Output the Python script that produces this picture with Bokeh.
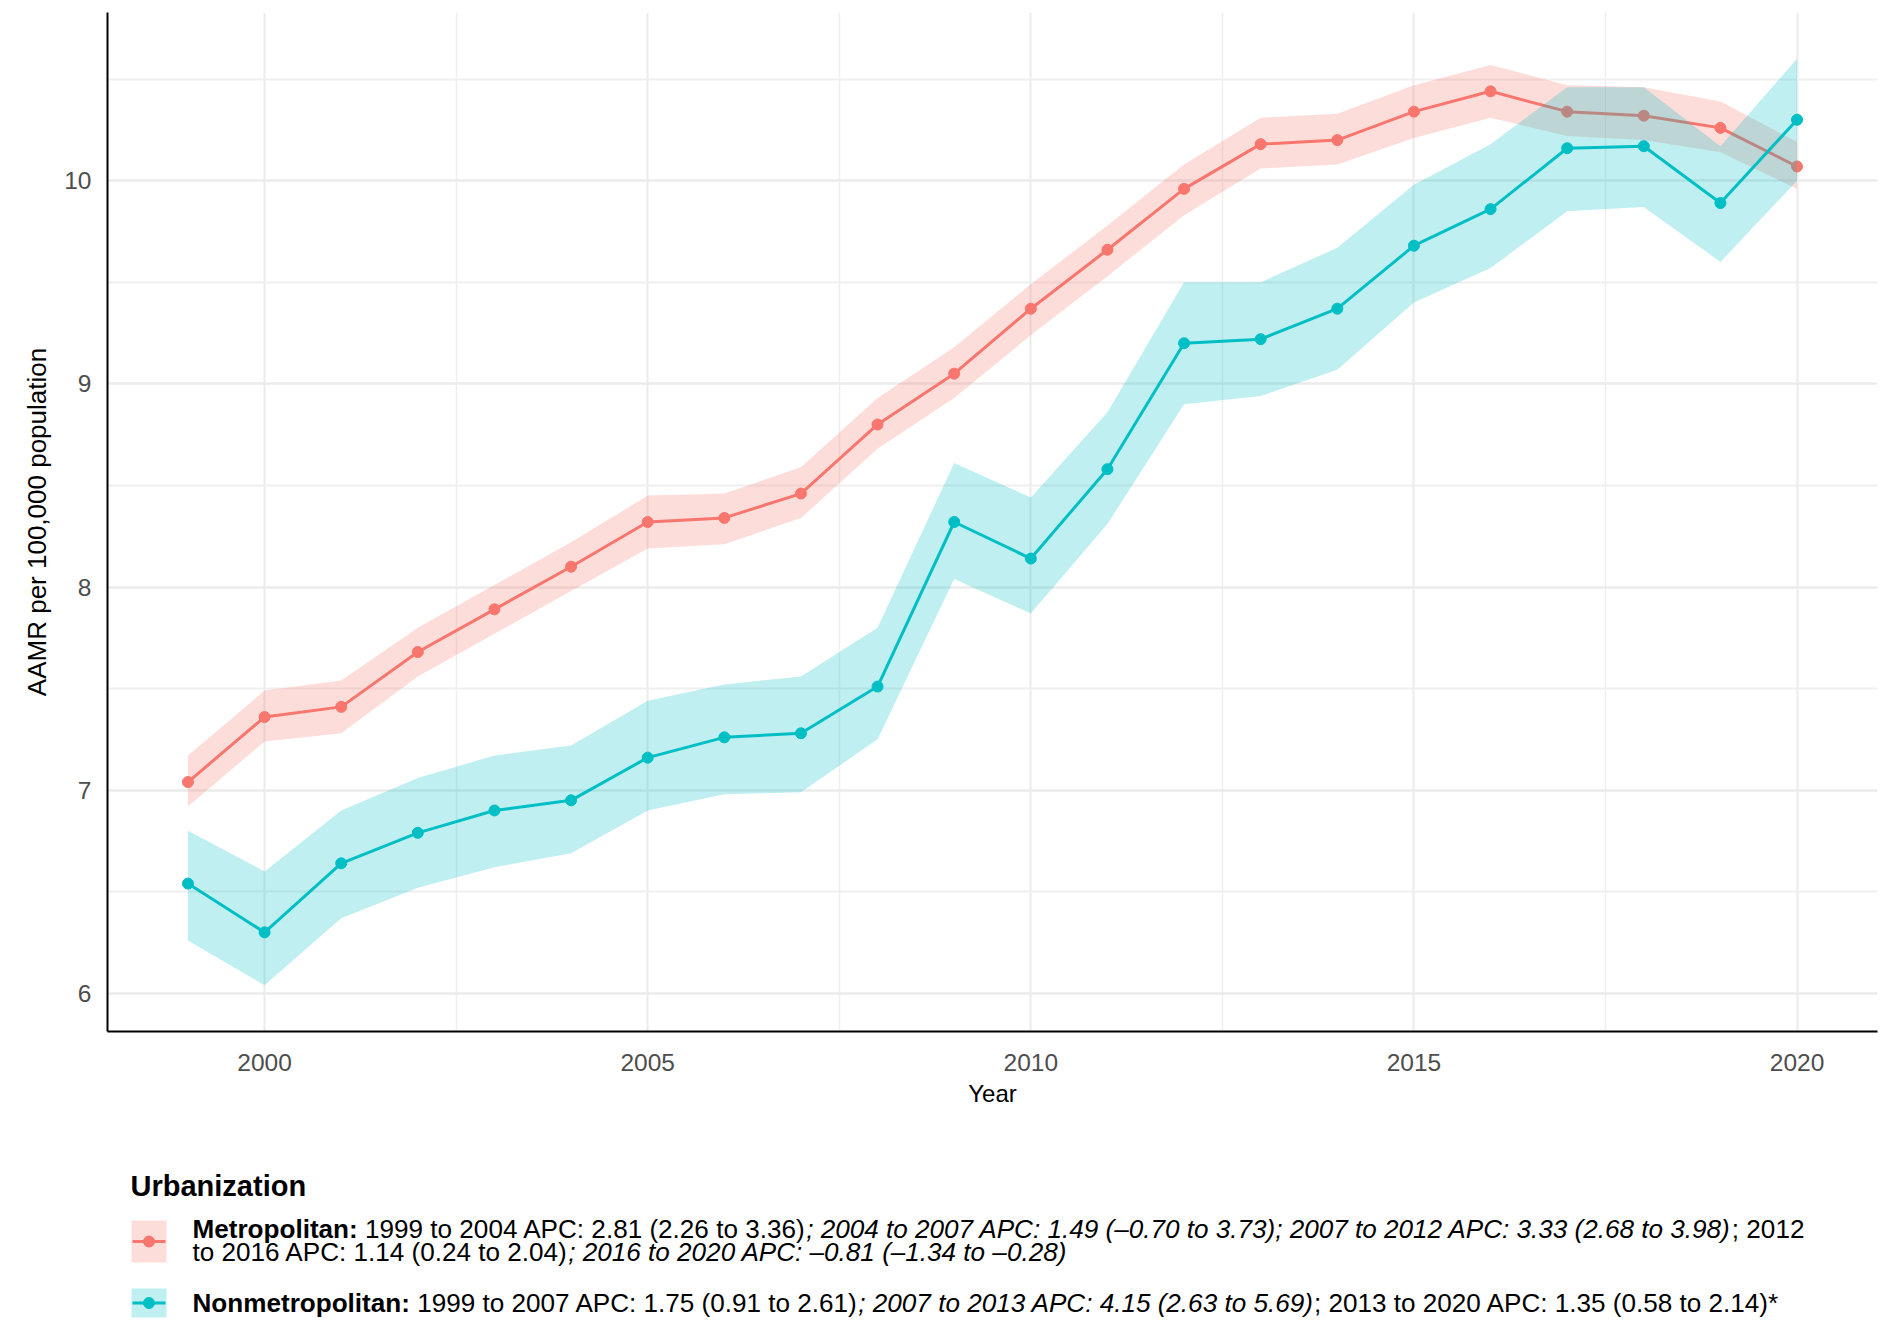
from bokeh.plotting import figure
from bokeh.models import Range1d, FixedTicker
from bokeh.layouts import column
from bokeh.embed import file_html
from bokeh.resources import INLINE
from bokeh.core.properties import value

# ---------------- data ----------------
years = list(range(1999, 2021))
metro = [7.04, 7.36, 7.41, 7.68, 7.89, 8.10, 8.32, 8.34, 8.46, 8.80, 9.05,
         9.37, 9.66, 9.96, 10.18, 10.20, 10.34, 10.44, 10.34, 10.32, 10.26, 10.07]
metro_lo = [6.92, 7.24, 7.28, 7.56, 7.77, 7.98, 8.19, 8.21, 8.34, 8.68, 8.93,
            9.24, 9.53, 9.83, 10.06, 10.08, 10.21, 10.31, 10.22, 10.20, 10.14, 9.96]
metro_hi = [7.17, 7.49, 7.54, 7.80, 8.01, 8.22, 8.45, 8.46, 8.59, 8.93, 9.18,
            9.49, 9.78, 10.08, 10.31, 10.33, 10.47, 10.57, 10.47, 10.46, 10.39, 10.19]
nonmetro = [6.54, 6.30, 6.64, 6.79, 6.90, 6.95, 7.16, 7.26, 7.28, 7.51, 8.32,
            8.14, 8.58, 9.20, 9.22, 9.37, 9.68, 9.86, 10.16, 10.17, 9.89, 10.30]
nonmetro_lo = [6.26, 6.04, 6.37, 6.52, 6.62, 6.69, 6.90, 6.98, 6.99, 7.25, 8.04,
               7.87, 8.31, 8.90, 8.94, 9.07, 9.40, 9.57, 9.85, 9.87, 9.60, 10.00]
nonmetro_hi = [6.80, 6.60, 6.90, 7.06, 7.17, 7.22, 7.44, 7.52, 7.56, 7.80, 8.61,
               8.44, 8.86, 9.50, 9.50, 9.67, 9.98, 10.18, 10.46, 10.46, 10.17, 10.60]

x_ticks = [2000, 2005, 2010, 2015, 2020]
x_minor = [1997.5, 2002.5, 2007.5, 2012.5, 2017.5]
y_ticks = [6, 7, 8, 9, 10]
y_minor = [5.5, 6.5, 7.5, 8.5, 9.5, 10.5]

legend_title = "Urbanization"
legend_rows = [
    [("Metropolitan:", "bold"),
     (" 1999 to 2004 APC: 2.81 (2.26 to 3.36)", "normal"),
     ("; 2004 to 2007 APC: 1.49 (\u20130.70 to 3.73); 2007 to 2012 APC: 3.33 (2.68 to 3.98)", "italic"),
     ("; 2012", "normal")],
    [("to 2016 APC: 1.14 (0.24 to 2.04)", "normal"),
     ("; 2016 to 2020 APC: \u20130.81 (\u20131.34 to \u20130.28)", "italic")],
    [("Nonmetropolitan:", "bold"),
     (" 1999 to 2007 APC: 1.75 (0.91 to 2.61)", "normal"),
     ("; 2007 to 2013 APC: 4.15 (2.63 to 5.69)", "italic"),
     ("; 2013 to 2020 APC: 1.35 (0.58 to 2.14)*", "normal")],
]

RED = "#F8766D"
TEAL = "#00BFC4"
FONT = "Liberation Sans"
W = 1885
H_MAIN = 1133
H_LEG = 186
B_LEFT, B_RIGHT = 107, 8

# ---------------- main plot ----------------
def expand(lo, hi, f=0.05):
    d = (hi - lo) * f
    return lo - d, hi + d

xmin, xmax = expand(min(years), max(years))
ymin, ymax = expand(min(metro_lo + nonmetro_lo), max(metro_hi + nonmetro_hi))

p = figure(width=W, height=H_MAIN, output_backend="svg", toolbar_location=None,
           x_range=Range1d(xmin, xmax), y_range=Range1d(ymin, ymax),
           min_border_left=B_LEFT, min_border_right=B_RIGHT, min_border_top=12,
           min_border_bottom=102)
p.outline_line_color = None
p.background_fill_color = "white"

xt = FixedTicker(ticks=x_ticks, minor_ticks=x_minor)
yt = FixedTicker(ticks=y_ticks, minor_ticks=y_minor)
p.xaxis.ticker = xt
p.yaxis.ticker = yt
p.xgrid.ticker = xt
p.ygrid.ticker = yt

for g in (p.xgrid, p.ygrid):
    g.grid_line_color = "#EBEBEB"
    g.grid_line_width = 2
    g.minor_grid_line_color = "#EFEFEF"
    g.minor_grid_line_width = 1.5
p.ygrid.grid_line_width = 2.5
p.ygrid.minor_grid_line_width = 2

for ax in (p.xaxis, p.yaxis):
    ax.axis_line_color = "black"
    ax.axis_line_width = 2
    ax.major_tick_line_color = None
    ax.minor_tick_line_color = None
    ax.major_label_text_font = FONT
    ax.major_label_text_font_size = "24.5px"
    ax.major_label_text_color = "#4D4D4D"
    ax.axis_label_text_font = FONT
    ax.axis_label_text_font_style = "normal"
    ax.axis_label_text_color = "black"

p.xaxis.axis_label = "Year"
p.xaxis.axis_label_text_font_size = "24px"
p.xaxis.major_label_standoff = 16
p.xaxis.axis_label_standoff = 6
p.yaxis.axis_label = "AAMR per 100,000 population"
p.yaxis.axis_label_text_font_size = "26px"
p.yaxis.major_label_standoff = 10
p.yaxis.axis_label_standoff = 9

series = [(metro, metro_lo, metro_hi, RED), (nonmetro, nonmetro_lo, nonmetro_hi, TEAL)]
for vals, lo, hi, col in series:
    p.varea(x=years, y1=lo, y2=hi, fill_color=col, fill_alpha=0.25)
    p.line(years, vals, line_color=col, line_width=3)
    p.scatter(years, vals, size=11, fill_color=col, line_color=col)

# ---------------- legend (separate panel, frame aligned with the plot) ----------------
REG = {' ': 278, '(': 333, ')': 333, '*': 389, ',': 278, '\u2013': 556, '.': 278,
       ':': 278, ';': 278, 'A': 667, 'C': 722, 'M': 833, 'N': 722, 'P': 667,
       'a': 556, 'e': 556, 'i': 222, 'l': 222, 'm': 833, 'n': 556, 'o': 556,
       'p': 556, 'r': 333, 't': 278, 'u': 556}
BOLD = {' ': 278, ':': 333, 'M': 833, 'N': 722, 'a': 556, 'e': 556, 'i': 278,
        'l': 278, 'm': 889, 'n': 611, 'o': 611, 'p': 611, 'r': 389, 't': 333}

def text_width(s, style, size):
    tbl = BOLD if style == "bold" else REG
    return sum(tbl.get(c, 556) for c in s) / 1000.0 * size

LEG_FS = 26.1
L = figure(width=W, height=H_LEG, output_backend="svg", toolbar_location=None,
           x_range=Range1d(B_LEFT, W - B_RIGHT), y_range=Range1d(H_LEG, 0),
           x_axis_type=None, y_axis_type=None,
           min_border_left=B_LEFT, min_border_right=B_RIGHT,
           min_border_top=0, min_border_bottom=0)
L.outline_line_color = None
L.xgrid.visible = False
L.ygrid.visible = False

L.text(x=[130], y=[52], text=[legend_title], text_font=value(FONT),
       text_font_size=value("29px"), text_font_style=value("bold"),
       text_color="black", text_align="left", text_baseline="middle")

# keys: (left, right, top, bottom, color)
key_boxes = [(131, 166, 87, 129, RED), (131, 166, 155, 184, TEAL)]
for kl, kr, kt, kb, col in key_boxes:
    L.quad(left=[kl], right=[kr], top=[kt], bottom=[kb], fill_color=col,
           fill_alpha=0.25, line_color=None)
    cy = (kt + kb) / 2.0
    L.line([kl + 1, kr - 1], [cy, cy], line_color=col, line_width=3)
    L.scatter([(kl + kr) / 2.0], [cy], size=11, fill_color=col, line_color=col)

row_y = [95, 118, 169]
text_x0 = 192
for ry, segs in zip(row_y, legend_rows):
    cursor = text_x0
    for s, style in segs:
        stripped = s.lstrip(" ")
        lead = len(s) - len(stripped)
        xdraw = cursor + lead * REG[' '] / 1000.0 * LEG_FS
        L.text(x=[xdraw], y=[ry], text=[stripped], text_font=value(FONT),
               text_font_size=value(f"{LEG_FS}px"), text_font_style=value(style),
               text_color="black", text_align="left", text_baseline="middle")
        cursor += text_width(s, style, LEG_FS)

layout = column(p, L, spacing=0)
open("out.html", "w").write(file_html(layout, INLINE))
